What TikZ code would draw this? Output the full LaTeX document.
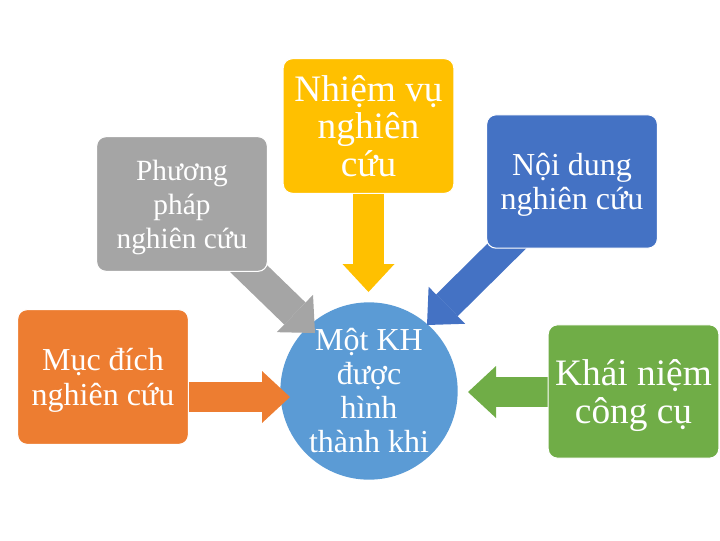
\documentclass[tikz,border=0pt]{standalone}
\usepackage{fontspec}
\setmainfont{Liberation Serif}
\usetikzlibrary{arrows.meta,backgrounds}
\definecolor{ppgray}{HTML}{A5A5A5}
\definecolor{nvyellow}{HTML}{FFC000}
\definecolor{ndblue}{HTML}{4472C4}
\definecolor{mdorange}{HTML}{ED7D31}
\definecolor{kngreen}{HTML}{70AD47}
\definecolor{khblue}{HTML}{5B9BD5}
\tikzset{
  box/.style={rectangle, rounded corners=7pt, draw=white, line width=0.8pt,
    text=white, align=center, minimum width=128pt, minimum height=101pt, inner sep=2pt, text depth=0pt},
  hub/.style={circle, fill=khblue, text=white, align=center, minimum size=133pt, inner sep=0pt},
  blockarr/.style={line width=23pt, -{Triangle[width=39pt,length=21pt,line width=0pt]}}
}
\begin{document}
\begin{tikzpicture}[x=0.75pt,y=-0.75pt]
        \useasboundingbox (0,0) rectangle (720,540);

        % Boxes around the centre
        \node[box, fill=ppgray, font=\fontsize{22}{25.5}\selectfont] (pp) at (182,204) {Phương\\pháp\\nghiên cứu};
        \node[box, fill=nvyellow, font=\fontsize{28}{28}\selectfont] (nv) at (368.5,126) {Nhiệm vụ\\nghiên\\cứu};
        \node[box, fill=ndblue, minimum height=100pt, font=\fontsize{24}{25.5}\selectfont] (nd) at (572,181.5) {Nội dung\\nghiên cứu};
        \node[box, fill=mdorange, font=\fontsize{24}{26}\selectfont] (md) at (103,377) {Mục đích\\nghiên cứu};
        \node[box, fill=kngreen, minimum height=100pt, font=\fontsize{28}{28}\selectfont] (kn) at (633.5,391.5) {Khái niệm\\công cụ};

        % Arrow tips
        \coordinate (t-pp) at (315,333);
        \coordinate (t-nv) at (368.5,292);
        \coordinate (t-nd) at (427,325);
        \coordinate (t-md) at (290,397);
        \coordinate (t-kn) at (468,392);

        \begin{pgfonlayer}{background}
        % Centre circle
        \node[hub, font=\fontsize{24}{25.5}\selectfont] (kh) at (369,391) {Một KH\\được\\hình\\thành khi};

        % Block arrows into the circle
        \draw[blockarr, ppgray] (pp.center) -- (t-pp);
        \draw[blockarr, nvyellow] (nv.center) -- (t-nv);
        \draw[blockarr, ndblue] (nd.center) -- (t-nd);
        \draw[blockarr, mdorange] (md |- t-md) -- (t-md);
        \draw[blockarr, kngreen] (kn |- t-kn) -- (t-kn);
        \end{pgfonlayer}
      \end{tikzpicture}
\end{document}
